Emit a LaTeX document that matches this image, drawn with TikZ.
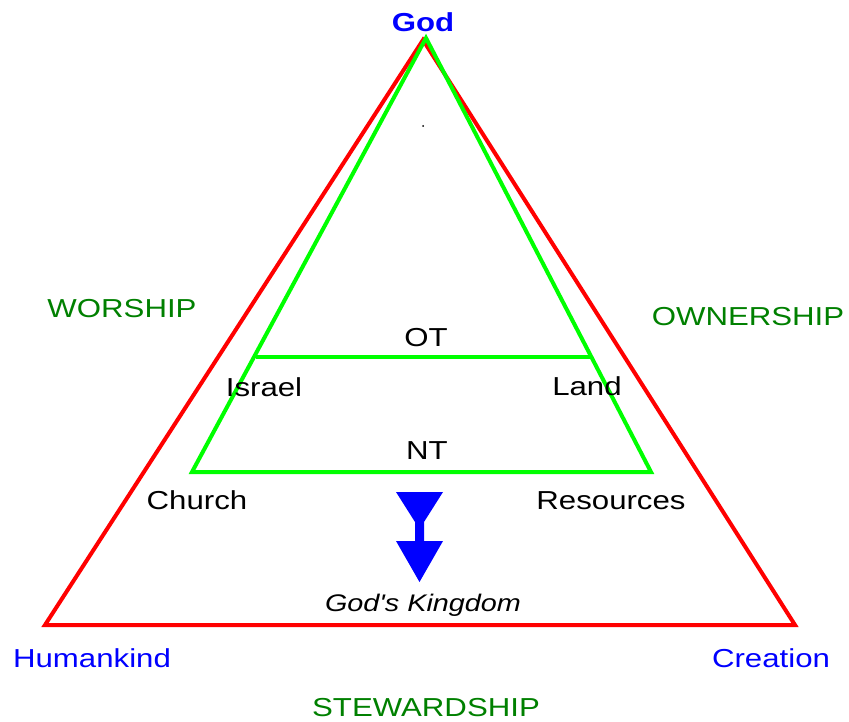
\documentclass[tikz,border=0pt]{standalone}
\usepackage{fontspec}
\setmainfont[FakeStretch=1.2]{Liberation Sans}
\newfontfamily\kingfont[FakeStretch=1.2]{Liberation Sans}
\definecolor{linered}{RGB}{255,0,0}
\definecolor{linegreen}{RGB}{0,255,0}
\definecolor{textgreen}{RGB}{0,128,0}
\definecolor{textblue}{RGB}{0,0,255}
\tikzset{
  lbl/.style={anchor=base, inner sep=0pt, font=\fontsize{26}{30}\selectfont},
  corner/.style={lbl, text=textblue},
  theme/.style={lbl, text=textgreen},
}
\begin{document}
\begin{tikzpicture}[x=1pt,y=-1pt]
\useasboundingbox (0,0) rectangle (849,722);
% outer triangle
\coordinate (G) at (423,40);
\coordinate (H) at (45,625);
\coordinate (C) at (795,625);
% inner triangle
\coordinate (g) at (426,38);
\coordinate (ch) at (192,472);
\coordinate (re) at (651,472);
\coordinate (is) at (256,357);
\coordinate (la) at (590,357);

\draw[linered, line width=4pt, line join=miter] (G) -- (H) -- (C) -- cycle;
\draw[linegreen, line width=4pt] (g) -- (ch) -- (re) -- cycle;
\draw[linegreen, line width=4pt] (is) -- (la);

\node[corner, font=\fontsize{26}{30}\selectfont\bfseries] (god) at (423,32) {God};
\node[corner] (human) at (92,667) {Humankind};
\node[corner] (creat) at (771,667) {Creation};

\node[theme] (wor) at (122,317) {WORSHIP};
\node[theme] (own) at (748,325) {OWNERSHIP};
\node[theme] (stew) at (426,716) {STEWARDSHIP};

\node[lbl] (ot) at (426,346) {OT};
\node[lbl] (isr) at (264,396) {Israel};
\node[lbl] (land) at (587,395) {Land};
\node[lbl] (nt) at (427,459) {NT};
\node[lbl] (church) at (197,509) {Church};
\node[lbl] (res) at (611,509) {Resources};
\node[lbl, font=\kingfont\fontsize{24}{28}\selectfont\itshape] (king) at (423,611) {God's Kingdom};

\fill (423,126) circle (1);

% arrow to the kingdom
\fill[textblue] (396,492) -- (443,492) -- (424,522) -- (424,541) -- (443,541)
  -- (419.5,582) -- (396,541) -- (415,541) -- (415,522) -- cycle;
\end{tikzpicture}
\end{document}
